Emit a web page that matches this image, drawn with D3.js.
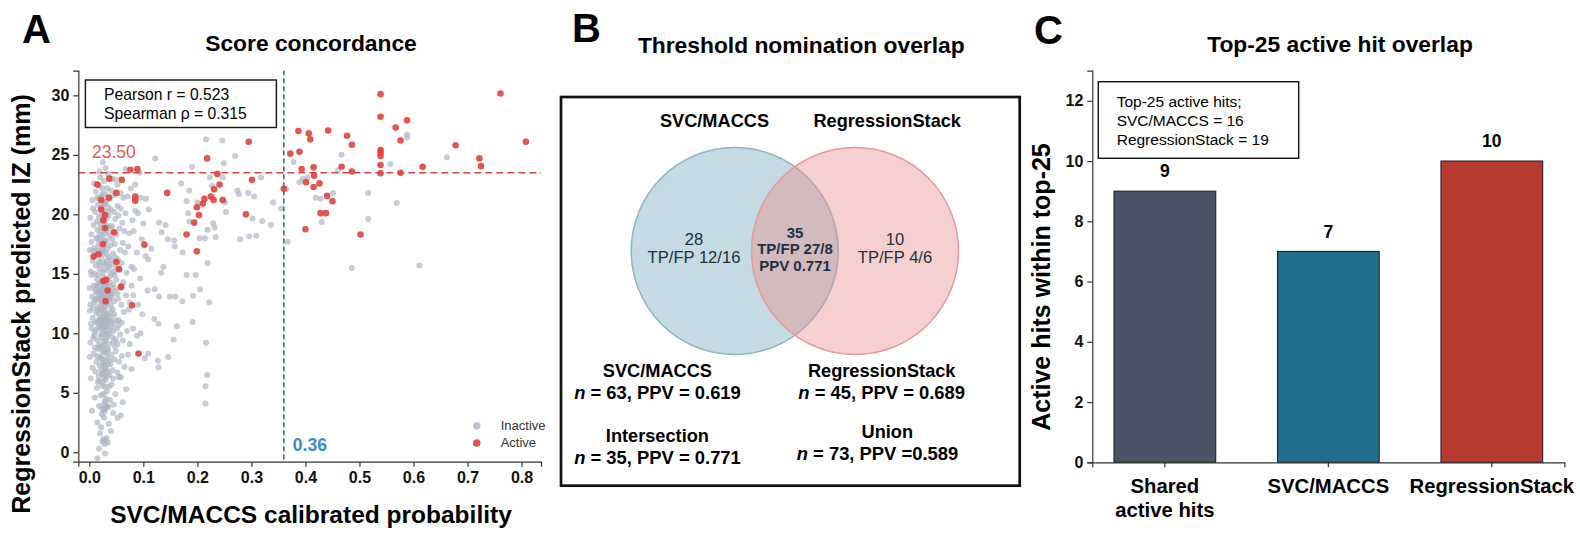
<!DOCTYPE html>
<meta charset="utf-8">
<head>
<style>
body { margin: 0; background: #fff; }
svg { font-family: "Liberation Sans", Arial, sans-serif; }
.axis path, .axis line { stroke: #333; stroke-width: 1.2px; }
.axis text { font-size: 16px; font-weight: bold; fill: #111; }
</style>
</head>
<body>
<script src="https://d3js.org/d3.v7.min.js"></script>
<script>

// ---- panel A data : [SVC/MACCS prob, RegressionStack IZ]
var activePts = [[0.539,30.1],[0.761,30.15],[0.539,28.2],[0.588,27.9],[0.567,27.3],[0.387,27.0],[0.442,27.05],[0.406,26.8],
  [0.477,26.6],[0.409,26.3],[0.576,26.2],[0.295,26.1],[0.808,26.1],[0.486,25.85],[0.678,25.8],[0.539,25.4],[0.539,25.2],
  [0.372,25.1],[0.389,25.25],[0.539,24.9],[0.218,24.7],[0.722,24.7],[0.539,24.15],[0.617,24.0],[0.467,24.0],[0.725,24.05],
  [0.415,23.95],[0.393,23.8],[0.076,23.75],[0.089,23.8],[0.486,23.6],[0.539,23.45],[0.576,23.5],[0.237,23.4],[0.416,23.25],
  [0.037,23.0],[0.060,22.9],[0.301,22.9],[0.401,22.7],[0.426,22.6],[0.241,22.5],[0.015,22.5],[0.360,22.15],[0.415,22.3],
  [0.231,22.1],[0.144,21.8],[0.050,21.8],[0.085,21.5],[0.036,21.4],[0.225,21.5],[0.440,21.55],[0.022,21.2],[0.085,21.15],
  [0.213,21.3],[0.230,21.2],[0.247,21.2],[0.450,21.1],[0.210,20.9],[0.199,20.6],[0.022,20.4],[0.029,19.95],[0.203,19.95],
  [0.290,20.0],[0.428,20.1],[0.438,20.1],[0.026,19.5],[0.194,19.3],[0.029,18.85],[0.400,18.75],[0.046,18.5],[0.180,18.3],
  [0.502,18.3],[0.025,17.5],[0.102,17.45],[0.199,16.9],[0.017,16.65],[0.008,16.45],[0.050,16.0],[0.055,15.4],[0.031,14.5],
  [0.026,14.4],[0.034,13.6],[0.059,13.9],[0.030,12.7],[0.079,12.35],[0.091,8.3]];

var inactivePts = [
  [0.006,21.2],[0.012,21.9],[0.018,22.4],[0.022,21.5],[0.027,22.8],[0.031,21.1],[0.035,23.4],[0.040,22.0],[0.046,21.6],[0.052,22.5],
  [0.020,23.1],[0.025,24.4],[0.030,23.9],[0.015,21.4],[0.038,21.3],[0.058,21.8],[0.009,22.6],[0.024,21.7],[0.033,22.2],[0.043,23.0],
  [0.063,21.4],[0.019,23.6],[0.028,21.0],[0.048,22.9],[0.071,21.5],
  [0.004,18.3],[0.008,19.1],[0.011,20.2],[0.015,18.7],[0.018,19.8],[0.021,20.6],[0.024,18.1],[0.027,19.4],[0.030,20.9],[0.033,18.9],
  [0.036,19.9],[0.040,20.4],[0.044,18.5],[0.048,19.6],[0.052,20.7],[0.056,18.8],[0.061,19.3],[0.067,20.1],[0.074,18.4],[0.002,19.7],
  [0.013,18.0],[0.016,20.8],[0.020,19.2],[0.023,18.6],[0.026,20.3],[0.029,18.4],[0.032,19.7],[0.035,20.6],[0.038,18.2],[0.042,19.0],
  [0.046,20.2],[0.050,18.3],[0.054,19.9],[0.058,20.5],[0.065,18.6],[0.080,19.5],[0.085,20.3],[0.007,20.5],[0.019,18.3],[0.034,18.6],
  [0.003,15.2],[0.006,16.1],[0.009,17.2],[0.012,15.7],[0.014,16.6],[0.017,17.6],[0.019,15.4],[0.022,16.3],[0.024,17.1],[0.027,15.9],
  [0.029,16.9],[0.031,17.8],[0.034,15.3],[0.036,16.4],[0.039,17.4],[0.041,15.8],[0.044,16.7],[0.047,17.5],[0.050,15.5],[0.053,16.2],
  [0.057,17.0],[0.060,15.9],[0.066,16.8],[0.072,17.3],[0.078,15.6],[0.001,17.0],[0.010,15.0],[0.015,18.0],[0.021,17.9],[0.025,15.1],
  [0.028,17.4],[0.032,16.1],[0.037,15.6],[0.042,17.9],[0.045,15.2],[0.048,16.4],[0.055,15.3],[0.062,17.6],[0.069,15.1],[0.004,17.7],
  [0.008,16.9],[0.018,16.0],[0.026,16.7],[0.033,17.1],[0.040,16.2],
  [0.002,12.4],[0.005,13.1],[0.008,14.0],[0.010,12.8],[0.012,13.5],[0.014,14.6],[0.016,12.2],[0.018,13.0],[0.020,13.8],[0.022,14.4],
  [0.024,12.6],[0.025,13.2],[0.027,13.9],[0.028,12.9],[0.030,13.4],[0.031,14.2],[0.033,12.5],[0.034,13.0],[0.036,13.7],[0.038,14.8],
  [0.040,12.3],[0.042,13.3],[0.044,14.1],[0.046,12.7],[0.048,13.6],[0.050,14.5],[0.053,12.9],[0.056,13.8],[0.059,12.4],[0.063,14.3],
  [0.068,13.2],[0.075,12.6],[0.004,14.9],[0.007,12.1],[0.011,13.7],[0.013,12.9],[0.017,14.2],[0.019,13.3],[0.021,12.9],[0.023,13.5],
  [0.026,14.7],[0.029,12.3],[0.032,13.1],[0.035,14.0],[0.037,12.8],[0.039,13.4],[0.043,12.0],[0.047,14.9],[0.052,13.3],[0.058,14.0],
  [0.001,13.8],[0.009,12.6],[0.015,13.4],[0.024,13.0],[0.041,13.1],
  [0.002,9.2],[0.004,10.4],[0.006,11.3],[0.009,9.8],[0.011,10.9],[0.013,11.7],[0.015,9.4],[0.017,10.5],[0.019,11.1],[0.021,9.9],
  [0.022,10.8],[0.024,11.5],[0.026,9.3],[0.027,10.6],[0.029,11.0],[0.030,11.9],[0.032,9.6],[0.033,10.7],[0.035,11.2],[0.037,9.1],
  [0.038,10.3],[0.040,11.4],[0.042,9.7],[0.044,10.8],[0.046,11.6],[0.049,9.5],[0.051,10.4],[0.054,11.1],[0.057,9.9],[0.060,10.9],
  [0.064,11.8],[0.070,10.2],[0.001,11.9],[0.007,9.6],[0.010,10.1],[0.014,11.0],[0.016,11.9],[0.018,9.0],[0.020,10.7],[0.023,11.1],
  [0.025,10.2],[0.028,10.9],[0.031,10.5],[0.034,11.6],[0.036,10.0],[0.039,11.0],[0.041,10.6],[0.045,9.3],[0.048,11.1],[0.052,9.1],
  [0.055,10.7],[0.062,9.4],[0.003,10.8],[0.026,11.1],[0.029,10.1],
  [0.003,6.2],[0.006,7.1],[0.008,8.3],[0.011,6.8],[0.013,7.6],[0.015,8.7],[0.017,6.4],[0.019,7.3],[0.021,8.0],[0.023,8.9],
  [0.025,6.6],[0.026,7.5],[0.028,8.4],[0.030,6.1],[0.031,7.0],[0.033,7.9],[0.035,8.6],[0.037,6.5],[0.039,7.4],[0.041,8.2],
  [0.043,6.9],[0.046,7.8],[0.049,8.5],[0.052,6.7],[0.055,7.6],[0.060,8.1],[0.001,8.0],[0.010,8.8],[0.018,6.0],[0.022,6.9],
  [0.024,7.8],[0.027,6.3],[0.029,7.2],[0.032,8.7],[0.034,6.8],[0.038,7.7],[0.044,6.2],[0.047,8.9],[0.058,6.3],[0.065,7.2],
  [0.005,3.5],[0.010,4.6],[0.014,5.4],[0.018,3.9],[0.021,4.8],[0.024,5.6],[0.027,3.6],[0.029,4.3],[0.032,5.1],[0.035,3.8],
  [0.038,4.4],[0.041,5.7],[0.044,3.3],[0.048,4.9],[0.052,2.9],[0.016,5.9],[0.023,3.2],[0.030,3.7],[0.036,5.5],[0.045,4.0],
  [0.015,2.5],[0.020,1.6],[0.024,0.9],[0.026,1.1],[0.028,0.7],[0.030,1.0],[0.032,1.2],[0.034,0.8],[0.022,2.1],[0.036,2.4],
  [0.018,0.3],[0.029,-0.1],[0.015,-0.5],[0.040,1.8],[0.027,2.9],
  // dense core of the cluster
  [0.018,21.3],[0.023,20.0],[0.027,20.8],[0.031,19.1],[0.021,18.9],[0.025,19.7],[0.029,17.7],[0.017,17.2],[0.023,16.9],[0.033,16.6],
  [0.020,15.8],[0.027,15.4],[0.031,15.8],[0.016,14.9],[0.021,14.2],[0.028,14.0],[0.033,14.5],[0.019,13.6],[0.023,13.1],[0.027,12.8],
  [0.030,13.0],[0.034,13.4],[0.036,12.9],[0.022,12.4],[0.026,12.2],[0.031,12.6],[0.018,12.8],[0.028,13.3],[0.025,13.6],[0.020,12.0],
  [0.019,11.4],[0.023,10.9],[0.027,11.3],[0.031,11.2],[0.034,10.9],[0.021,10.4],[0.025,10.7],[0.029,10.5],[0.032,11.5],[0.036,11.1],
  [0.017,10.9],[0.024,11.9],[0.028,11.6],[0.022,9.7],[0.026,9.9],[0.030,9.4],[0.034,9.9],[0.019,8.8],[0.024,8.5],[0.028,9.0],
  [0.032,8.3],[0.021,7.9],[0.026,7.3],[0.030,7.7],[0.034,7.4],[0.023,6.6],[0.028,6.8],[0.032,6.4],[0.025,5.9],[0.029,5.5],
  [0.026,4.9],[0.031,4.5],[0.027,4.0],[0.024,3.7],[0.033,3.9],[0.028,3.4],[0.038,14.3],[0.040,11.8],[0.042,15.0],[0.039,19.0],
  [0.024,22.2],[0.029,21.7],[0.034,20.2],[0.014,19.4],[0.012,16.9],[0.013,14.0],[0.012,10.3],[0.014,8.1],[0.044,10.2],[0.045,13.8],
  [0.216,26.3],[0.246,26.2],[0.588,26.45],[0.588,26.7],[0.467,25.0],[0.662,24.8],[0.557,24.2],[0.122,24.7],[0.249,24.3],[0.569,20.95],
  [0.516,21.8],[0.451,21.8],[0.428,21.3],[0.419,21.4],[0.430,19.35],[0.516,19.6],[0.486,15.5],[0.611,15.7],[0.367,17.7],[0.389,22.7],
  [0.404,23.1],[0.336,19.1],[0.320,19.45],[0.309,18.2],[0.296,18.15],[0.279,17.9],[0.302,19.65],[0.274,22.0],[0.294,21.8],[0.305,21.5],
  [0.318,23.1],[0.218,6.5],[0.215,5.55],[0.215,4.1],[0.216,9.2],[0.219,15.9],[0.222,12.6],[0.205,13.7],[0.192,13.15],[0.191,10.95],
  [0.156,9.45],[0.162,10.6],[0.146,8.0],[0.127,7.7],[0.128,7.15],[0.128,10.8],[0.129,13.1],[0.149,13.1],[0.159,13.1],[0.172,12.7],
  [0.137,15.6],[0.133,15.1],[0.121,13.7],[0.180,14.9],[0.197,14.9],[0.173,16.8],[0.157,17.8],[0.145,17.9],[0.134,18.5],[0.129,19.3],
  [0.141,19.1],[0.185,22.0],[0.183,20.1],[0.185,19.4],[0.219,18.7],[0.232,18.9],[0.234,18.1],[0.214,18.0],[0.204,18.0],[0.229,19.25],
  [0.253,20.2],[0.251,21.0],[0.227,22.4],[0.223,23.1],[0.247,23.1],[0.158,17.3],[0.109,16.2],[0.109,8.3],[0.103,7.9],[0.078,7.0],
  [0.055,6.3],[0.085,22.5],[0.095,21.4],[0.105,21.3],[0.090,20.1],[0.100,19.2],[0.110,20.4],[0.082,18.6],[0.097,17.9],[0.088,16.8],
  [0.104,16.5],[0.115,17.1],[0.083,15.4],[0.094,14.6],[0.081,13.2],[0.090,12.4],[0.098,11.6],[0.081,10.4],[0.088,9.8],[0.075,9.1],
  [0.073,12.0],[0.078,14.0],[0.108,13.6],[0.120,11.2],[0.095,10.0],[0.093,23.5],[0.077,22.2],[0.067,23.8],[0.068,5.3],[0.062,4.2],
  [0.058,3.1],[0.072,8.2],[0.340,21.0],[0.378,24.4],[0.395,23.0],[0.355,20.5],[0.364,22.1],[0.460,23.7],[0.270,24.9],[0.277,21.7],
  [0.190,24.0],[0.180,21.1],[0.200,21.0],[0.170,22.6]];

var izCut = 23.5, probCut = 0.36;
var statLines = ["Pearson r = 0.523", "Spearman \u03c1 = 0.315"];

// ---- panel B data
var vennSets = ["SVC/MACCS", "RegressionStack"];
var vennRegions = [["28", "TP/FP 12/16"], ["35", "TP/FP 27/8", "PPV 0.771"], ["10", "TP/FP 4/6"]];
var vennSummary = [
  {name: "SVC/MACCS", n: 63, ppv: "= 0.619"},
  {name: "RegressionStack", n: 45, ppv: "= 0.689"},
  {name: "Intersection", n: 35, ppv: "= 0.771"},
  {name: "Union", n: 73, ppv: "=0.589"}];

// ---- panel C data
var barCats = ["Shared|active hits", "SVC/MACCS", "RegressionStack"];
var barVals = [9, 7, 10];
var barColors = ["#4a5464", "#1f6e8c", "#b73a31"];
var top25Lines = ["Top-25 active hits;", "SVC/MACCS = 16", "RegressionStack = 19"];

var svg = d3.select("body").append("svg")
    .attr("width", 1580)
    .attr("height", 538);

function panelLetter(t, x, y) {
  svg.append("text").attr("x", x).attr("y", y)
    .style("font-size", "40px").style("font-weight", "bold").text(t);
}
function panelTitle(t, x, y) {
  svg.append("text").attr("x", x).attr("y", y).attr("text-anchor", "middle")
    .style("font-size", "22.8px").style("font-weight", "bold").text(t);
}

// ================= A =================
panelLetter("A", 22, 43);
panelTitle("Score concordance", 311, 51);

var x = d3.scaleLinear().domain([-0.0204, 0.836]).range([78.3, 541]);
var y = d3.scaleLinear().domain([-0.79, 32.08]).range([461.7, 70.6]);

var gA = svg.append("g");

gA.selectAll("circle.ina").data(inactivePts).enter().append("circle")
    .attr("class", "ina")
    .attr("cx", function(d) { return x(d[0]); })
    .attr("cy", function(d) { return y(d[1]); })
    .attr("r", 3)
    .style("fill", "#aeb4c2").style("fill-opacity", 0.68);

gA.append("line")
    .attr("x1", x.range()[0]).attr("x2", x.range()[1])
    .attr("y1", y(izCut)).attr("y2", y(izCut))
    .style("stroke", "#d9483f").style("stroke-width", 1.6).style("stroke-dasharray", "7,4");
gA.append("line")
    .attr("x1", x(probCut)).attr("x2", x(probCut))
    .attr("y1", y.range()[1]).attr("y2", y.range()[0])
    .style("stroke", "#2a7c9a").style("stroke-width", 1.6).style("stroke-dasharray", "5,3");

gA.selectAll("circle.act").data(activePts).enter().append("circle")
    .attr("class", "act")
    .attr("cx", function(d) { return x(d[0]); })
    .attr("cy", function(d) { return y(d[1]); })
    .attr("r", 3.3)
    .style("fill", "#e0433d").style("fill-opacity", 0.9);

gA.append("text").attr("x", 92).attr("y", y(izCut) - 15)
    .style("font-size", "17.5px").style("fill", "#e05a5a").text(izCut.toFixed(2));
gA.append("text").attr("x", x(probCut) + 9).attr("y", 450.5)
    .style("font-size", "17.5px").style("font-weight", "bold").style("fill", "#3a8bd0").text(probCut.toFixed(2));

gA.append("g").attr("class", "axis")
    .attr("transform", "translate(0,461.7)")
    .call(d3.axisBottom(x).tickValues(d3.range(0, 0.81, 0.1)).tickFormat(d3.format(".1f")).tickSizeOuter(0).tickSize(5).tickPadding(5));
gA.append("g").attr("class", "axis")
    .attr("transform", "translate(78.3,0)")
    .call(d3.axisLeft(y).tickValues(d3.range(0, 31, 5)).tickSizeOuter(0).tickSize(5).tickPadding(4));

// stats box
gA.append("rect").attr("x", 85.4).attr("y", 80).attr("width", 191).attr("height", 47.5)
    .style("fill", "#fff").style("stroke", "#111").style("stroke-width", 1.4);
gA.selectAll("text.stat").data(statLines).enter().append("text")
    .attr("x", 104).attr("y", function(d, i) { return 100.3 + i * 18.9; })
    .style("font-size", "15.7px").text(function(d) { return d; });

// legend
var legA = gA.append("g").attr("transform", "translate(476.7,425.7)");
[["Inactive", "#aeb4c2", 0.8], ["Active", "#e0433d", 0.9]].forEach(function(d, i) {
  legA.append("circle").attr("cx", 0).attr("cy", i * 17.3).attr("r", 3.8)
    .style("fill", d[1]).style("fill-opacity", d[2]);
  legA.append("text").attr("x", 24).attr("y", i * 17.3 + 4.5)
    .style("font-size", "13px").style("fill", "#333").text(d[0]);
});

gA.append("text").attr("transform", "translate(29.5,304) rotate(-90)")
    .attr("text-anchor", "middle")
    .style("font-size", "25px").style("font-weight", "bold")
    .text("RegressionStack predicted IZ (mm)");
gA.append("text").attr("x", 311).attr("y", 523).attr("text-anchor", "middle")
    .style("font-size", "24.5px").style("font-weight", "bold")
    .text("SVC/MACCS calibrated probability");

// ================= B =================
panelLetter("B", 572, 42);
panelTitle("Threshold nomination overlap", 801.3, 53);

var gB = svg.append("g");
gB.append("rect").attr("x", 561).attr("y", 97).attr("width", 458.7).attr("height", 388.7)
    .style("fill", "none").style("stroke", "#111").style("stroke-width", 2.7);

var vx = d3.scalePoint().domain(vennSets).range([734.7, 855]);
var vFill = ["#6fa3b8", "#e88a8a"], vStroke = ["#8cb7c9", "#e79a9a"];

gB.selectAll("circle.venn").data(vennSets).enter().append("circle")
    .attr("cx", function(d) { return vx(d); }).attr("cy", 251).attr("r", 103.5)
    .style("fill", function(d, i) { return vFill[i]; })
    .style("fill-opacity", 0.4)
    .style("stroke", function(d, i) { return vStroke[i]; })
    .style("stroke-width", 1.5);

gB.selectAll("text.vset").data(vennSets).enter().append("text")
    .attr("x", function(d, i) { return i === 0 ? 714.5 : 887.2; }).attr("y", 126.5)
    .attr("text-anchor", "middle")
    .style("font-size", "18.2px").style("font-weight", "bold").text(function(d) { return d; });

var regionX = [694, 795, 895];
vennRegions.forEach(function(lines, i) {
  var mid = i === 1;
  lines.forEach(function(l, j) {
    gB.append("text").attr("x", regionX[i])
      .attr("y", mid ? 237.5 + j * 16.8 : 245.3 + j * 18)
      .attr("text-anchor", "middle")
      .style("font-size", mid ? "15px" : "16.6px")
      .style("font-weight", mid ? "bold" : "normal")
      .style("fill", "#22303e")
      .text(l);
  });
});

var sumPos = [[657.4, 376.5], [881.7, 376.5], [657.4, 441.5], [887.3, 438.3]];
var sumX2 = [657.5, 881.7, 657.5, 877.5];
vennSummary.forEach(function(d, i) {
  var p = sumPos[i];
  gB.append("text").attr("x", p[0]).attr("y", p[1]).attr("text-anchor", "middle")
    .style("font-size", "18.2px").style("font-weight", "bold").text(d.name);
  var t = gB.append("text").attr("x", sumX2[i]).attr("y", p[1] + 22).attr("text-anchor", "middle")
    .style("font-size", "18.4px").style("font-weight", "bold");
  t.append("tspan").style("font-style", "italic").text("n");
  t.append("tspan").text(" = " + d.n + ", PPV " + d.ppv);
});

// ================= C =================
panelLetter("C", 1034, 44);
panelTitle("Top-25 active hit overlap", 1340, 52);

var xb = d3.scaleBand().domain(barCats).range([1092.3, 1564.4]).paddingInner(0.378).paddingOuter(0.133);
var yb = d3.scaleLinear().domain([0, 13]).range([462.3, 70.7]);

var gC = svg.append("g");
gC.selectAll("rect.bar").data(barVals).enter().append("rect")
    .attr("x", function(d, i) { return xb(barCats[i]); })
    .attr("y", function(d) { return yb(d); })
    .attr("width", xb.bandwidth())
    .attr("height", function(d) { return yb(0) - yb(d); })
    .style("fill", function(d, i) { return barColors[i]; })
    .style("stroke", "#222").style("stroke-width", 1.1);

gC.selectAll("text.val").data(barVals).enter().append("text")
    .attr("x", function(d, i) { return xb(barCats[i]) + xb.bandwidth() / 2; })
    .attr("y", function(d) { return yb(d) - 13.7; })
    .attr("text-anchor", "middle")
    .style("font-size", "17.5px").style("font-weight", "bold").text(function(d) { return d; });

gC.append("g").attr("class", "axis")
    .attr("transform", "translate(0,462.3)")
    .call(d3.axisBottom(xb).tickSizeOuter(0).tickSize(5).tickFormat(""));
gC.append("g").attr("class", "axis")
    .attr("transform", "translate(1092.3,0)")
    .call(d3.axisLeft(yb).tickValues(d3.range(0, 13, 2)).tickSizeOuter(0).tickSize(5).tickPadding(4));

barCats.forEach(function(c) {
  var parts = c.split("|");
  parts.forEach(function(p, j) {
    gC.append("text")
      .attr("x", xb(c) + xb.bandwidth() / 2)
      .attr("y", 493 + j * 24)
      .attr("text-anchor", "middle")
      .style("font-size", "20.3px").style("font-weight", "bold").text(p);
  });
});

gC.append("rect").attr("x", 1098.3).attr("y", 81.7).attr("width", 200.4).attr("height", 76.6)
    .style("fill", "#fff").style("stroke", "#111").style("stroke-width", 1.4);
gC.selectAll("text.box").data(top25Lines).enter().append("text")
    .attr("x", 1116.7).attr("y", function(d, i) { return 107.2 + i * 18.8; })
    .style("font-size", "15.5px").text(function(d) { return d; });

gC.append("text").attr("transform", "translate(1049.5,287) rotate(-90)")
    .attr("text-anchor", "middle")
    .style("font-size", "25px").style("font-weight", "bold")
    .text("Active hits within top-25");

</script>
</body>
